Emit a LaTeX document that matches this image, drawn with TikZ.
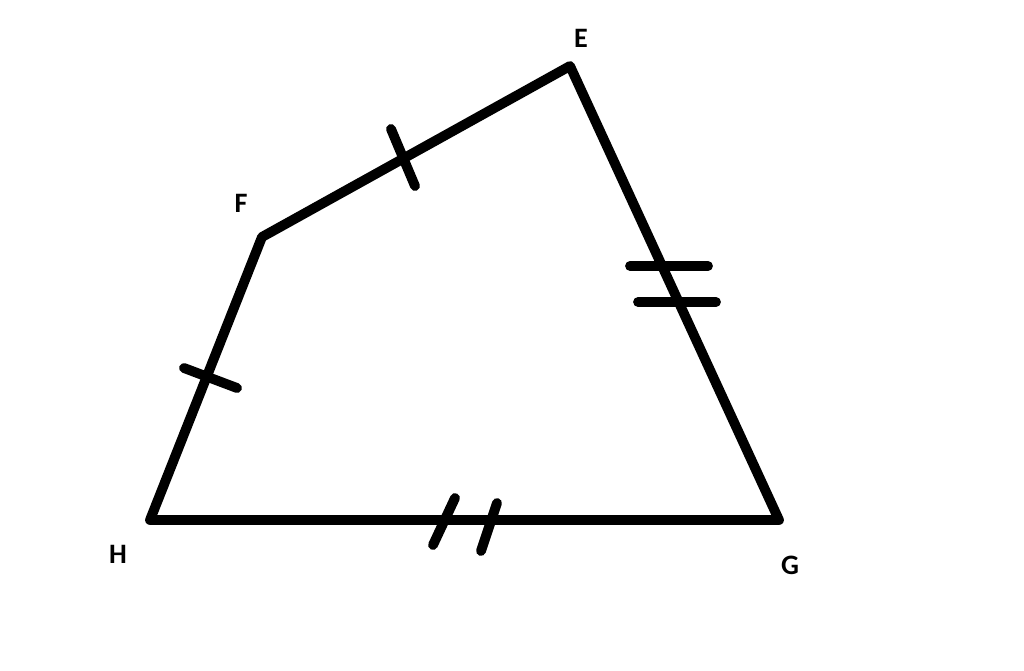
\documentclass[tikz,border=0pt]{standalone}
\usepackage{fontspec}
\setmainfont{Carlito}
\usetikzlibrary{positioning}

\begin{document}
\begin{tikzpicture}[x=0.02cm,y=-0.02cm]

  \tikzstyle{side} = [line width=5.6pt,line cap=round,line join=round];
  \tikzstyle{tick} = [line width=5.6pt,line cap=round];
  \tikzstyle{vlabel} = [font={\fontsize{16}{18}\selectfont\bfseries}];

  \useasboundingbox (0,0) rectangle (1024,670);

  \coordinate (E) at (570,66);
  \coordinate (F) at (262,237);
  \coordinate (H) at (150,520);
  \coordinate (G) at (779,520);

  \node [vlabel] (E-label) at (581,38)  {E};
  \node [vlabel] (F-label) at (241,203) {F};
  \node [vlabel] (H-label) at (118,554) {H};
  \node [vlabel] (G-label) at (790,565) {G};

  \draw [side] (E) -- (F) -- (H) -- (G) -- cycle;

  % ticks
  \draw [tick] (391,129) -- (415,186);
  \draw [tick] (184,368) -- (237,388);
  \draw [tick] (630,266) -- (708,266);
  \draw [tick] (638,302) -- (716,302);
  \draw [tick] (433,545) -- (455,498);
  \draw [tick] (481,551) -- (497,503);

\end{tikzpicture}
\end{document}
